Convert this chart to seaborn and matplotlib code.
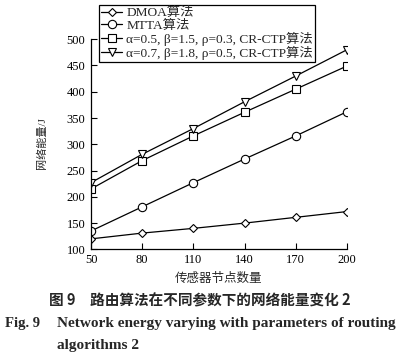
import matplotlib
matplotlib.use("Agg")
import matplotlib.pyplot as plt
import seaborn as sns
import pandas as pd

nodes = [50, 80, 110, 140, 170, 200]
dmoa = [120, 131, 140, 150, 161, 172]
mtta = [135, 181, 227, 272, 316, 362]
crctp_a = [215, 269, 316, 361, 405, 449]
crctp_b = [227, 281, 330, 381, 430, 480]

labels = ["DMOA算法", "MTTA算法",
          "α=0.5, β=1.5, ρ=0.3, CR-CTP算法",
          "α=0.7, β=1.8, ρ=0.5, CR-CTP算法"]
markers = ["D", "o", "s", "v"]
series = [dmoa, mtta, crctp_a, crctp_b]

sns.set_theme(style="ticks")
plt.rcParams['font.family'] = ['Liberation Serif', 'Noto Sans CJK SC']

fig = plt.figure(figsize=(4.0, 3.63), dpi=100)
ax = fig.add_axes([0.2275, 0.313, 0.64, 0.579])

msize = {"D": 4.5, "o": 6, "s": 5.5, "v": 6}
for vals, lab, mk in zip(series, labels, markers):
    df = pd.DataFrame({"x": nodes, "y": vals})
    sns.lineplot(data=df, x="x", y="y", ax=ax, color="black", linewidth=0.9,
                 marker=mk, markersize=msize[mk], markerfacecolor="white",
                 markeredgecolor="black", markeredgewidth=0.8, label=lab)

ax.set_xlim(50, 200)
ax.set_ylim(100, 500)
ax.set_xticks(nodes)
ax.set_yticks(range(100, 501, 50))
ax.tick_params(direction="in", length=4, width=0.8, labelsize=9, colors="black")
ax.tick_params(axis="x", pad=3)
ax.tick_params(axis="y", pad=4)
for s in ["top", "right"]:
    ax.spines[s].set_visible(False)
for s in ["left", "bottom"]:
    ax.spines[s].set_color("black")
    ax.spines[s].set_linewidth(0.9)
ax.set_xlabel("传感器节点数量", fontsize=9, labelpad=5)
ax.set_ylabel("网络能量/J", fontsize=8)
ax.yaxis.set_label_coords(-0.172, 0.506)

leg = ax.legend(loc="upper left", bbox_to_anchor=(0.2475, 1 - 5 / 363), bbox_transform=fig.transFigure,
                frameon=True, fancybox=False, fontsize=9.6, handlelength=1.6,
                handletextpad=0.3, borderpad=0.15, labelspacing=0.0, borderaxespad=0)
leg.get_frame().set_edgecolor("black")
leg.get_frame().set_linewidth(0.9)
leg.get_frame().set_alpha(1)

fig.text(0.5, 1 - 300 / 363, "图 9　路由算法在不同参数下的网络能量变化 2", ha="center", va="center",
         fontsize=10.5, fontweight="bold", family=['Noto Sans CJK SC'])
fig.text(0.012, 1 - 323 / 363, "Fig. 9", ha="left", va="center", fontsize=10.5, fontweight="bold")
fig.text(57 / 400, 1 - 323 / 363, "Network energy varying with parameters of routing", ha="left",
         va="center", fontsize=11, fontweight="bold")
fig.text(57 / 400, 1 - 345 / 363, "algorithms 2", ha="left", va="center", fontsize=11, fontweight="bold")

fig.savefig("out.png", dpi=100)
